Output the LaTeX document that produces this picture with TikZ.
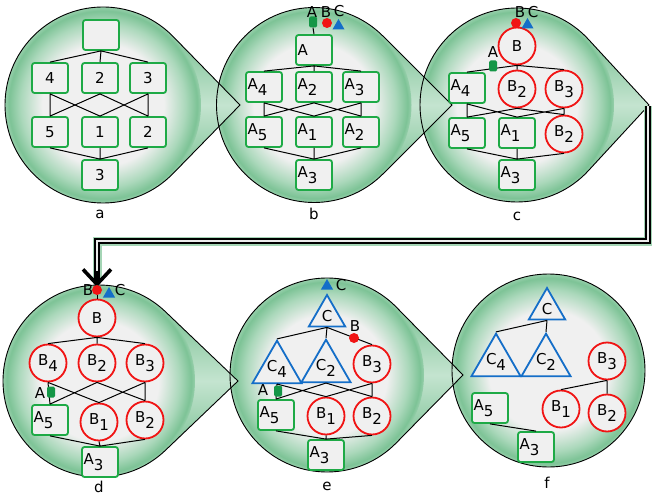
\documentclass[tikz,border=0pt]{standalone}
\usepackage{fontspec}
\setmainfont{DejaVu Sans}
\usetikzlibrary{shapes.geometric,arrows.meta}
\definecolor{bubgreen}{RGB}{125,195,150}
\definecolor{boxgreen}{RGB}{30,170,70}
\definecolor{markgreen}{RGB}{20,150,70}
\definecolor{bred}{RGB}{240,20,20}
\definecolor{cblue}{RGB}{20,110,200}
\definecolor{nodegray}{RGB}{240,240,240}
\pgfdeclareradialshading{bubshade}{\pgfpointorigin}{color(0bp)=(nodegray); color(15.5bp)=(nodegray); color(21bp)=(bubgreen!65); color(24bp)=(bubgreen); color(25bp)=(bubgreen!80); color(50bp)=(bubgreen!80)}
\newcommand{\lowsub}[1]{\raisebox{-0.38em}{#1}}
\newcommand{\bubblefill}[4]{%
  \pgfmathsetmacro\tang{acos(#3/(#4-#1))}
  \shade[tailshade] ({#1+#3*cos(\tang)},{-#2+#3*sin(\tang)}) -- (#4,-#2) -- ({#1+#3*cos(\tang)},{-#2-#3*sin(\tang)}) -- cycle;
  \shade[shading=bubshade] (#1,-#2) circle[radius=#3pt];}
\newcommand{\bubbleline}[4]{%
  \pgfmathsetmacro\tang{acos(#3/(#4-#1))}
  \draw[bubline] (#1,-#2) ++(-\tang:#3pt) arc[start angle=-\tang,end angle={\tang-360},radius=#3pt] -- (#4,-#2) -- cycle;}

\begin{document}
\begin{tikzpicture}[x=1pt,y=1pt,font=\fontsize{15}{17}\selectfont,
  bubline/.style={draw=black,line width=0.9pt},
  tailshade/.style={top color=bubgreen,bottom color=bubgreen,middle color=bubgreen!45!white},
  box/.style={rectangle,rounded corners=2.5pt,draw=boxgreen,line width=1.8pt,fill=nodegray,minimum width=36pt,minimum height=30pt,inner sep=0pt},
  abox/.style={box,text width=33pt,align=left,inner xsep=1.5pt},
  bcirc/.style={circle,draw=bred,line width=1.8pt,fill=nodegray,minimum size=37pt,inner sep=0pt},
  ctri/.style={regular polygon,regular polygon sides=3,draw=cblue,line width=1.8pt,fill=nodegray,minimum size=50pt,inner sep=0pt},
  ctriS/.style={ctri,minimum size=42pt},
  lnk/.style={line width=1pt},
  markA/.style={rectangle,rounded corners=1.5pt,fill=markgreen,minimum width=8pt,minimum height=11pt,inner sep=0pt},
  markB/.style={circle,fill=bred,minimum size=10pt,inner sep=0pt},
  markC/.style={regular polygon,regular polygon sides=3,fill=cblue,minimum size=14pt,inner sep=0pt},
  mlab/.style={inner sep=0pt},
  pipe/.style={draw=black,line width=1.6pt,double=gray!15,double distance=2pt},
  glow/.style={draw=bubgreen!70,line width=9pt},
  bigarrow/.style={line width=3.6pt,-{Straight Barb[length=15pt,width=28pt]}}]
\useasboundingbox (0,0) rectangle (652,-497);

\bubblefill{517}{105}{97}{649}
\bubblefill{314}{105}{97.5}{452}
\bubblefill{103}{105}{98}{240}
\shade[shading=bubshade] (548.5,-370.5) circle[radius=96.5pt];
\bubblefill{327}{375}{97}{463}
\bubblefill{99}{381}{96}{238}
\bubbleline{103}{105}{98}{240}
\bubbleline{314}{105}{97.5}{452}
\bubbleline{517}{105}{97}{649}
\bubbleline{99}{381}{96}{238}
\bubbleline{327}{375}{97}{463}
\draw[bubline] (548.5,-370.5) circle[radius=96.5pt];

\coordinate (cTip) at (648,-106);
\coordinate (bend) at (648,-241);
\coordinate (dTop) at (97,-287);
\draw[glow,shorten >=8pt] (cTip) -- (bend) -| (dTop);
\draw[pipe,shorten >=6pt] (cTip) -- (bend) -| (dTop);
\draw[bigarrow] ([yshift=16pt]dTop) -- (dTop);

\node[box] (aT) at (101,-35) {};
\node[box] (a4) at (50,-78) {4};
\node[box] (a2) at (100,-78) {2};
\node[box] (a3) at (148,-78) {3};
\node[box] (a5) at (50,-132) {5};
\node[box] (a1) at (100,-132) {1};
\node[box] (a2b) at (148,-132) {2};
\node[box] (a3b) at (100,-175) {3};
\draw[lnk] (aT.south) -- (a4.north) (aT.south) -- (a2.north) (aT.south) -- (a3.north);
\draw[lnk] (a4.south) -- (a5.north) (a4.south) -- (a1.north) (a2.south) -- (a5.north);
\draw[lnk] (a2.south) -- (a2b.north) (a3.south) -- (a1.north) (a3.south) -- (a2b.north);
\draw[lnk] (a5.south) -- (a3b.north) (a1.south) -- (a3b.north) (a2b.south) -- (a3b.north);
\node (labA) at (100,-214) {a};

\node[abox] (bA) at (314,-50) {A};
\node[abox] (bA4) at (264,-87) {A\lowsub{4}};
\node[abox] (bA2) at (314,-87) {A\lowsub{2}};
\node[abox] (bA3) at (361,-87) {A\lowsub{3}};
\node[abox] (bA5) at (264,-132) {A\lowsub{5}};
\node[abox] (bA1) at (314,-132) {A\lowsub{1}};
\node[abox] (bA2b) at (361,-132) {A\lowsub{2}};
\node[abox] (bA3b) at (314,-175) {A\lowsub{3}};
\draw[lnk] (bA.south) -- (bA4.north) (bA.south) -- (bA2.north) (bA.south) -- (bA3.north);
\draw[lnk] (bA4.south) -- (bA5.north) (bA4.south) -- (bA1.north) (bA2.south) -- (bA5.north);
\draw[lnk] (bA2.south) -- (bA2b.north) (bA3.south) -- (bA1.north) (bA3.south) -- (bA2b.north);
\draw[lnk] (bA5.south) -- (bA3b.north) (bA1.south) -- (bA3b.north) (bA2b.south) -- (bA3b.north);
\node[markA] (bmA) at (313,-22) {};
\node[markB] (bmB) at (327,-23) {};
\node[markC] (bmC) at (338.5,-26) {};
\node[mlab] (bmAl) at (312,-12) {A};
\node[mlab] (bmBl) at (326,-12) {B};
\node[mlab] (bmCl) at (339,-11) {C};
\draw[lnk] (bmA.south) -- (bA.north);
\node (labB) at (314,-214) {b};

\node[bcirc] (cB) at (517,-46) {B};
\node[abox] (cA4) at (467,-88) {A\lowsub{4}};
\node[bcirc] (cB2) at (517,-89) {B\lowsub{2}};
\node[bcirc] (cB3) at (564,-89) {B\lowsub{3}};
\node[abox] (cA5) at (467,-133) {A\lowsub{5}};
\node[abox] (cA1) at (517,-133) {A\lowsub{1}};
\node[bcirc] (cB2b) at (564,-134) {B\lowsub{2}};
\node[abox] (cA3) at (517,-175) {A\lowsub{3}};
\draw[lnk] (cB.south) -- (cA4.north) (cB.south) -- (cB2.north) (cB.south) -- (cB3.north);
\draw[lnk] (cA4.south) -- (cA5.north) (cA4.south) -- (cA1.north) (cB2.south) -- (cA5.north);
\draw[lnk] (cB2.south) -- (cB2b.north) (cB3.south) -- (cA1.north) (cB3.south) -- (cB2b.north);
\draw[lnk] (cA5.south) -- (cA3.north) (cA1.south) -- (cA3.north) (cB2b.south) -- (cA3.north);
\node[markB] (cmB) at (516,-23) {};
\node[markC] (cmC) at (527.5,-25) {};
\node[markA] (cmA) at (493,-66) {};
\node[mlab] (cmBl) at (520,-12) {B};
\node[mlab] (cmCl) at (533,-12) {C};
\node[mlab] (cmAl) at (493,-52) {A};
\node (labC) at (517,-216) {c};

\node[bcirc] (dB) at (97,-318) {B};
\node[bcirc] (dB4) at (48,-363) {B\lowsub{4}};
\node[bcirc] (dB2) at (97,-363) {B\lowsub{2}};
\node[bcirc] (dB3) at (145,-363) {B\lowsub{3}};
\node[abox] (dA5) at (50,-420) {A\lowsub{5}};
\node[bcirc] (dB1) at (99,-422) {B\lowsub{1}};
\node[bcirc] (dB2b) at (145,-420) {B\lowsub{2}};
\node[abox] (dA3) at (100,-462) {A\lowsub{3}};
\draw[lnk] (dB.south) -- (dB4.north) (dB.south) -- (dB2.north) (dB.south) -- (dB3.north);
\draw[lnk] (dB4.south) -- (dA5.north) (dB4.south) -- (dB1.north) (dB2.south) -- (dA5.north);
\draw[lnk] (dB2.south) -- (dB2b.north) (dB3.south) -- (dB1.north) (dB3.south) -- (dB2b.north);
\draw[lnk] (dA5.south) -- (dA3.north) (dB1.south) -- (dA3.north) (dB2b.south) -- (dA3.north);
\node[markB] (dmB) at (97,-290) {};
\node[markC] (dmC) at (109,-294) {};
\node[markA] (dmA) at (51,-392) {};
\node[mlab] (dmBl) at (88,-290) {B};
\node[mlab] (dmCl) at (120,-290) {C};
\node[mlab] (dmAl) at (40,-393) {A};
\draw[lnk] (dmB.south) -- (dB.north);
\node (labD) at (99,-487) {d};

\node[ctriS] (eC) at (327,-316) {C};
\node[ctri] (eC4) at (277,-369) {C\lowsub{4}};
\node[ctri] (eC2) at (326,-368) {C\lowsub{2}};
\node[bcirc] (eB3) at (372,-364) {B\lowsub{3}};
\node[abox] (eA5) at (276,-415) {A\lowsub{5}};
\node[bcirc] (eB1) at (326,-416) {B\lowsub{1}};
\node[bcirc] (eB2b) at (372,-416) {B\lowsub{2}};
\node[abox] (eA3) at (326,-455) {A\lowsub{3}};
\draw[lnk] (eC.south) -- (eC4.north) (eC.south) -- (eC2.north) (eC.south) -- (eB3.north);
\draw[lnk] (eC4.south) -- (eA5.north) (eC4.south) -- (eB1.north) (eC2.south) -- (eA5.north);
\draw[lnk] (eC2.south) -- (eB2b.north) (eB3.south) -- (eB1.north) (eB3.south) -- (eB2b.north);
\draw[lnk] (eA5.south) -- (eA3.north) (eB1.south) -- (eA3.north) (eB2b.south) -- (eA3.north);
\node[markC] (emC) at (327,-286) {};
\node[markB] (emB) at (354,-338) {};
\node[markA] (emA) at (278,-391) {};
\node[mlab] (emCl) at (341,-285) {C};
\node[mlab] (emBl) at (355,-326) {B};
\node[mlab] (emAl) at (263,-390) {A};
\node (labE) at (327,-486) {e};

\node[ctriS] (fC) at (547,-309) {C};
\node[ctri] (fC4) at (496,-362) {C\lowsub{4}};
\node[ctri] (fC2) at (546,-362) {C\lowsub{2}};
\node[bcirc] (fB3) at (607,-361) {B\lowsub{3}};
\node[abox] (fA5) at (490,-408) {A\lowsub{5}};
\node[bcirc] (fB1) at (561,-409) {B\lowsub{1}};
\node[bcirc] (fB2) at (607,-413) {B\lowsub{2}};
\node[abox] (fA3) at (536,-447) {A\lowsub{3}};
\draw[lnk] (fC.south) -- (fC4.north) (fC.south) -- (fC2.north);
\draw[lnk] (fB3.south) -- (fB2.north) (fB3.south) -- (fB1.north) (fA5.south) -- (fA3.north);
\node (labF) at (547,-483) {f};
\end{tikzpicture}
\end{document}
